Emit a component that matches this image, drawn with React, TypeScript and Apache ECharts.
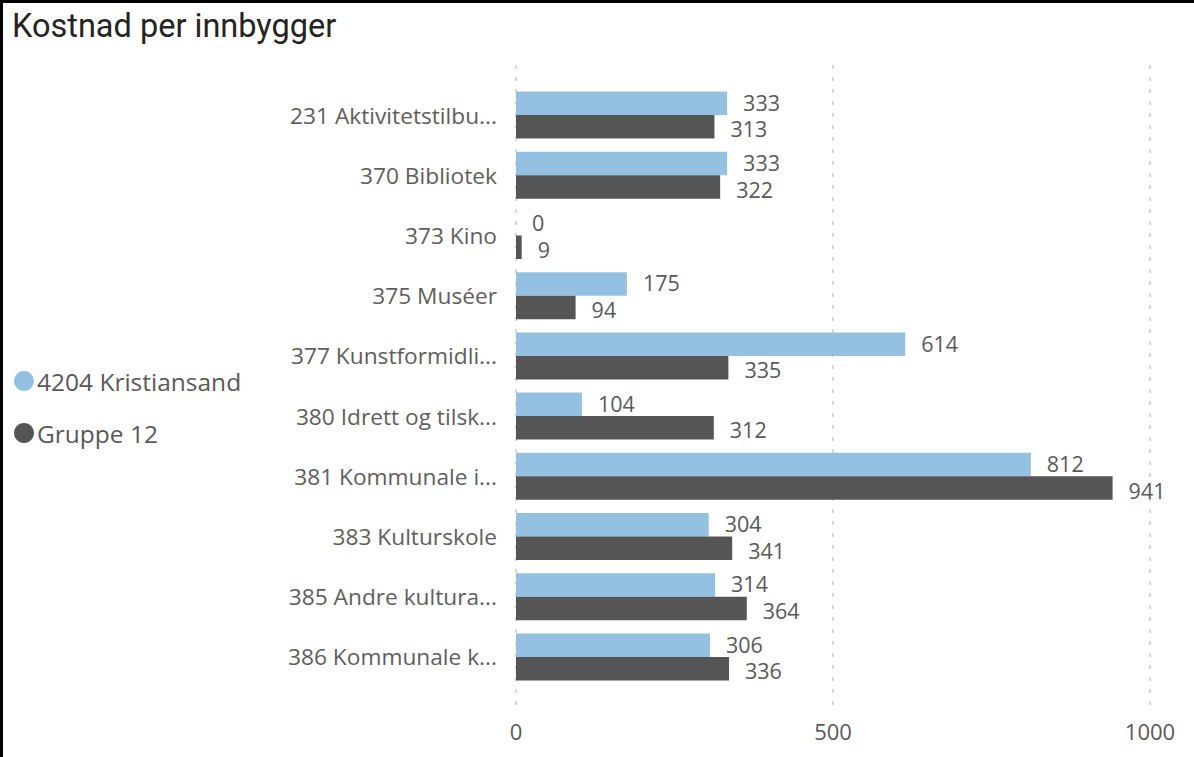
import React, { useEffect, useRef } from "react";
import * as echarts from "echarts";

const categories = [
  "231 Aktivitetstilbu...",
  "370 Bibliotek",
  "373 Kino",
  "375 Muséer",
  "377 Kunstformidli...",
  "380 Idrett og tilsk...",
  "381 Kommunale i...",
  "383 Kulturskole",
  "385 Andre kultura...",
  "386 Kommunale k...",
];
const kristiansand = [333, 333, 0, 175, 614, 104, 812, 304, 314, 306];
const gruppe12 = [313, 322, 9, 94, 335, 312, 941, 341, 364, 336];
const xTicks = [0, 500, 1000];
const seriesNames = ["4204 Kristiansand", "Gruppe 12"];

const FONT = "'Open Sans', 'Noto Sans', sans-serif";

export default function App() {
  const ref = useRef<HTMLDivElement>(null);
  useEffect(() => {
    if (!ref.current) return;
    const chart = echarts.init(ref.current, undefined, { renderer: "svg" });
    const labelStyle = {
      show: true,
      position: "right" as const,
      distance: 16,
      fontSize: 21.5,
      lineHeight: 20,
      color: "#595959",
      fontFamily: FONT,
    };
    chart.setOption({
      animation: false,
      backgroundColor: "#ffffff",
      title: {
        text: "Kostnad per innbygger",
        left: 12,
        top: 9,
        padding: 0,
        textStyle: { fontSize: 32.5, fontWeight: "normal", color: "#252423", fontFamily: "Roboto, sans-serif" },
      },
      legend: {
        orient: "vertical",
        left: 14,
        top: 368,
        padding: 0,
        itemGap: 26,
        itemWidth: 20,
        itemHeight: 20,
        icon: "circle",
        textStyle: { fontSize: 24.5, lineHeight: 26, color: "#595959", fontFamily: FONT, padding: [0, 0, 0, -2] },
        data: seriesNames,
      },
      graphic: [
        { type: "rect", left: 0, top: 0, shape: { width: 1194, height: 3 }, style: { fill: "#000" } },
        { type: "rect", left: 0, top: 0, shape: { width: 3, height: 757 }, style: { fill: "#000" } },
      ],
      grid: [
        { left: 516, right: 44, top: 65, bottom: 52 },
        { left: 516, right: 44, top: 85, height: 602 },
      ],
      xAxis: [
        {
          type: "value",
          gridIndex: 0,
          min: 0,
          max: 1000,
          interval: 500,
          axisLine: { show: false },
          axisTick: { show: false },
          axisLabel: {
            fontSize: 22,
            color: "#595959",
            fontFamily: FONT,
            margin: 15,
            formatter: (v: number) => (xTicks.includes(v) ? String(v) : ""),
          },
          splitLine: { show: true, lineStyle: { type: [4, 8], color: "#cccccc", width: 1.5 } },
        },
        {
          type: "value",
          gridIndex: 1,
          min: 0,
          max: 1000,
          show: false,
          splitLine: { show: false },
        },
      ],
      yAxis: [
        { type: "category", gridIndex: 0, show: false, data: ["a"] },
        {
          type: "category",
          gridIndex: 1,
          inverse: true,
          data: categories,
          axisLine: { show: false },
          axisTick: { show: false },
          axisLabel: { fontSize: 22.7, color: "#605E5C", fontFamily: FONT, margin: 19 },
        },
      ],
      series: [
        {
          name: seriesNames[0],
          type: "bar",
          xAxisIndex: 1,
          yAxisIndex: 1,
          data: kristiansand,
          itemStyle: { color: "#94C1E1" },
          barGap: "0%",
          barCategoryGap: "22%",
          label: { ...labelStyle, offset: [0, -1] },
        },
        {
          name: seriesNames[1],
          type: "bar",
          xAxisIndex: 1,
          yAxisIndex: 1,
          data: gruppe12,
          itemStyle: { color: "#555555" },
          barGap: "0%",
          barCategoryGap: "22%",
          label: { ...labelStyle, offset: [0, 2] },
        },
      ],
    });
    return () => chart.dispose();
  }, []);
  return (
    <div
      ref={ref}
      style={{ position: "absolute", left: 0, top: 0, width: 1194, height: 757 }}
    />
  );
}
